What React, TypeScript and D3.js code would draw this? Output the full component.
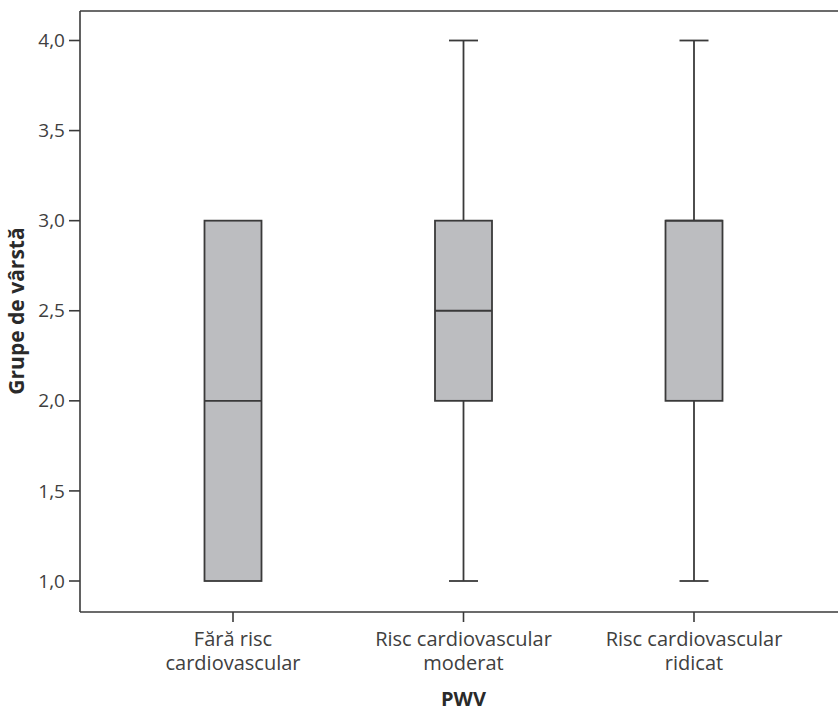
import React from "react";
import * as d3 from "d3";

const categories = [
  ["Fără risc", "cardiovascular"],
  ["Risc cardiovascular", "moderat"],
  ["Risc cardiovascular", "ridicat"],
];
const whiskerLow = [1.0, 1.0, 1.0];
const q1 = [1.0, 2.0, 2.0];
const median = [2.0, 2.5, 3.0];
const q3 = [3.0, 3.0, 3.0];
const whiskerHigh = [3.0, 4.0, 4.0];
const yTicks = [1.0, 1.5, 2.0, 2.5, 3.0, 3.5, 4.0];
const yTickLabels = ["1,0", "1,5", "2,0", "2,5", "3,0", "3,5", "4,0"];
const yTitle = "Grupe de vârstă";
const xTitle = "PWV";

const W = 838;
const H = 708;
const left = 80;
const top = 11;
const bottom = 612;
const FONT = "'Open Sans', sans-serif";
const TEXT = "#404040";
const LINE = "#3a3a3a";
const FILL = "#bcbdc0";

export default function App() {
  const y = d3.scaleLinear().domain([1.0, 4.0]).range([581, 40.5]);
  const ids = categories.map((_, i) => String(i));
  const x = d3.scalePoint<string>().domain(ids).range([233, 694]);
  const boxW = 57;
  const capW = 29;

  return (
    <svg
      width={W}
      height={H}
      style={{ position: "absolute", left: 0, top: 0, background: "#fff" }}
      fontFamily={FONT}
    >
      {/* frame */}
      <line x1={left} x2={W} y1={top} y2={top} stroke={LINE} strokeWidth={1.6} />
      <line x1={left} x2={W} y1={bottom} y2={bottom} stroke={LINE} strokeWidth={1.6} />
      <line x1={left} x2={left} y1={top} y2={bottom} stroke={LINE} strokeWidth={1.6} />

      {/* y ticks */}
      {yTicks.map((t, i) => (
        <g key={t}>
          <line x1={left - 11} x2={left} y1={y(t)} y2={y(t)} stroke={LINE} strokeWidth={1.6} />
          <text
            x={left - 15}
            y={y(t)}
            dy="0.35em"
            textAnchor="end"
            fontSize={19}
            fill={TEXT}
          >
            {yTickLabels[i]}
          </text>
        </g>
      ))}

      {/* x ticks & labels */}
      {categories.map((c, i) => {
        const cx = x(String(i))!;
        return (
          <g key={i}>
            <line x1={cx} x2={cx} y1={bottom} y2={bottom + 10} stroke={LINE} strokeWidth={1.6} />
            <text x={cx} y={646} textAnchor="middle" fontSize={20} fill={TEXT}>
              {c[0]}
            </text>
            <text x={cx} y={669.5} textAnchor="middle" fontSize={20} fill={TEXT}>
              {c[1]}
            </text>
          </g>
        );
      })}

      {/* boxes */}
      {categories.map((_, i) => {
        const cx = x(String(i))!;
        return (
          <g key={"b" + i} stroke={LINE} strokeWidth={1.8}>
            {whiskerHigh[i] > q3[i] && (
              <>
                <line x1={cx} x2={cx} y1={y(q3[i])} y2={y(whiskerHigh[i])} />
                <line x1={cx - capW / 2} x2={cx + capW / 2} y1={y(whiskerHigh[i])} y2={y(whiskerHigh[i])} />
              </>
            )}
            {whiskerLow[i] < q1[i] && (
              <>
                <line x1={cx} x2={cx} y1={y(q1[i])} y2={y(whiskerLow[i])} />
                <line x1={cx - capW / 2} x2={cx + capW / 2} y1={y(whiskerLow[i])} y2={y(whiskerLow[i])} />
              </>
            )}
            <rect
              x={cx - boxW / 2}
              y={y(q3[i])}
              width={boxW}
              height={y(q1[i]) - y(q3[i])}
              fill={FILL}
            />
            <line x1={cx - boxW / 2} x2={cx + boxW / 2} y1={y(median[i])} y2={y(median[i])} />
          </g>
        );
      })}

      {/* titles */}
      <text
        transform={`translate(23.5,${311}) rotate(-90)`}
        textAnchor="middle"
        fontSize={21}
        fontWeight="bold"
        fill="#2a2a2a"
      >
        {yTitle}
      </text>
      <text x={463.5} y={706} textAnchor="middle" fontSize={20} fontWeight="bold" fill="#2a2a2a">
        {xTitle}
      </text>
    </svg>
  );
}
